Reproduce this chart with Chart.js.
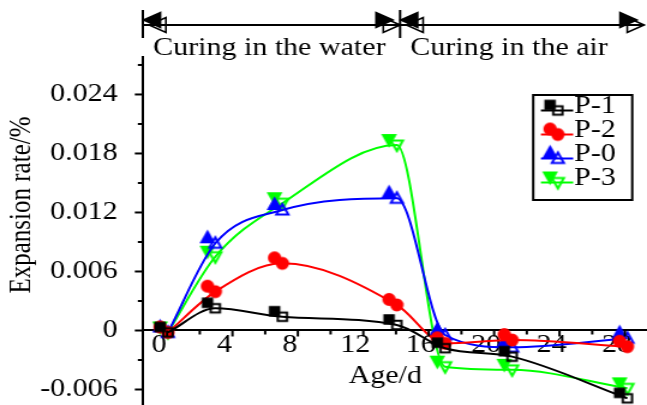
<!DOCTYPE html>
<html><head><meta charset="utf-8">
<script src="https://cdn.jsdelivr.net/npm/chart.js@4.4.1/dist/chart.umd.min.js"></script>
<style>html,body{margin:0;padding:0;background:#fff;overflow:hidden}canvas{display:block}</style>
</head><body>
<canvas id="c" width="539" height="405" style="width:647px;height:405px"></canvas>
<script>
// ---- data ----
const ages = [0.05, 2.95, 7.05, 14.05, 17.0, 21.1, 28.15];
const seriesNames = ['P-1', 'P-2', 'P-0', 'P-3'];
const p1Values = [-0.0002, 0.00226, 0.0014, 0.00056, -0.0018, -0.00266, -0.0069];
const p2Values = [-0.0002, 0.00395, 0.00683, 0.0026, -0.0013, -0.00097, -0.00165];
const p0Values = [-0.0002, 0.00887, 0.01225, 0.01344, -0.00046, -0.0017, -0.0008];
const p3Values = [-0.0002, 0.0075, 0.01294, 0.01886, -0.00368, -0.0040, -0.00588];
const xTickValues = [0, 4, 8, 12, 16, 20, 24, 28];
const xTickLabels = ['0', '4', '8', '12', '16', '20', '24', '28'];
const xMinorTicks = [2, 6, 10, 14, 18, 22, 26];
const yTickValues = [-0.006, 0, 0.006, 0.012, 0.018, 0.024];
const yTickLabels = ['-0.006', '0', '0.006', '0.012', '0.018', '0.024'];
const yMinorTicks = [-0.003, 0.003, 0.009, 0.015, 0.021, 0.027];
const phaseLabels = ['Curing in the water', 'Curing in the air'];
const phaseBounds = [-1.48, 14.25, 29.17];
const xTitle = 'Age/d';
const yTitle = 'Expansion rate/%';

const FONT = '"Liberation Serif", "Times New Roman", serif';
const FS = 25;

function drawShape(g, shape, x, y, color, filled) {
  g.beginPath();
  if (shape === 'square') g.rect(x - 3.8, y - 4.2, 7.6, 8.4);
  else if (shape === 'circle') g.ellipse(x, y, 4.6, 5.4, 0, 0, Math.PI * 2);
  else if (shape === 'up') { g.moveTo(x, y - 6); g.lineTo(x + 5, y + 4.5); g.lineTo(x - 5, y + 4.5); g.closePath(); }
  else if (shape === 'down') { g.moveTo(x, y + 6); g.lineTo(x + 5, y - 4.5); g.lineTo(x - 5, y - 4.5); g.closePath(); }
  if (filled) { g.fillStyle = color; g.fill(); }
  g.lineWidth = 2; g.strokeStyle = color; g.stroke();
}
function markerCanvas(shape, color, bothFilled) {
  const c = document.createElement('canvas');
  c.width = 34; c.height = 34;
  const g = c.getContext('2d');
  drawShape(g, shape, 17 - 6.5, 17 - 5.5, color, true);
  drawShape(g, shape, 17, 17, color, !!bothFilled);
  return c;
}
function mk(name, values, color, shape, bothFilled) {
  return {
    label: name,
    data: ages.map((a, i) => ({x: a, y: values[i]})),
    borderColor: color, backgroundColor: color, borderWidth: 2,
    cubicInterpolationMode: 'monotone',
    pointStyle: markerCanvas(shape, color, bothFilled),
    pointRadius: 6, pointHoverRadius: 6, clip: false
  };
}

const decor = {
  id: 'decor',
  afterDraw(chart) {
    const ctx = chart.ctx, xs = chart.scales.x, ys = chart.scales.y;
    const y0 = ys.getPixelForValue(0), x0 = ys.right;
    ctx.save();
    ctx.strokeStyle = '#000'; ctx.fillStyle = '#000'; ctx.lineWidth = 2;
    const seg = (a, b, c, d) => { ctx.beginPath(); ctx.moveTo(a, b); ctx.lineTo(c, d); ctx.stroke(); };
    // ticks
    xTickValues.forEach(v => { const p = xs.getPixelForValue(v); seg(p, y0, p, y0 + 6); });
    xMinorTicks.forEach(v => { const p = xs.getPixelForValue(v); seg(p, y0, p, y0 + 4); });
    yTickValues.forEach(v => { const p = ys.getPixelForValue(v); seg(x0 - 6.7, p, x0, p); });
    yMinorTicks.forEach(v => { const p = ys.getPixelForValue(v); seg(x0 - 4.2, p, x0, p); });
    // phase arrows
    const yl = 25;
    const bx = phaseBounds.map(v => xs.getPixelForValue(v));
    seg(bx[0], yl, bx[2], yl);
    seg(bx[0], 10, bx[0], 38);
    seg(bx[1], 10, bx[1], 38);
    const tri = (tipX, tipY, dir, filled) => {
      const L = 14, H = 7.5;
      ctx.beginPath();
      ctx.moveTo(tipX, tipY);
      ctx.lineTo(tipX - dir * L, tipY - H);
      ctx.lineTo(tipX - dir * L, tipY + H);
      ctx.closePath();
      if (filled) ctx.fill();
      ctx.lineWidth = 1.6; ctx.stroke();
    };
    for (let i = 0; i < 2; i++) {
      const s = bx[i], e = bx[i + 1];
      tri(s + 0.6, yl - 5, -1, true);
      tri(s + 5.2, yl, -1, false);
      tri(e - 6, yl - 5, 1, true);
      tri(e, yl, 1, false);
    }
    ctx.font = FS + 'px ' + FONT;
    ctx.textBaseline = 'alphabetic'; ctx.textAlign = 'left';
    phaseLabels.forEach((t, i) => ctx.fillText(t, bx[i] + 8.5, 55));
    // axis titles
    ctx.textAlign = 'center';
    ctx.fillText(xTitle, 321, 383);
    ctx.save();
    ctx.translate(25, 205); ctx.rotate(-Math.PI / 2);
    ctx.fillText(yTitle, 0, 0);
    ctx.restore();
    // legend
    const L = 444.2, R = 526.7, T = 95, B = 200;
    ctx.lineWidth = 2; ctx.strokeRect(L, T, R - L, B - T);
    chart.data.datasets.forEach((ds, i) => {
      const ly = 110.5 + 24 * i;
      ctx.strokeStyle = ds.borderColor; ctx.lineWidth = 2;
      seg(450.6, ly, 477.5, ly);
      const img = ds.pointStyle;
      ctx.drawImage(img, 464.7 - img.width / 2, ly - img.height / 2);
      ctx.fillStyle = '#000'; ctx.textAlign = 'left';
      ctx.fillText(ds.label, 478.3, ly + 2.5);
    });
    ctx.restore();
  }
};

Chart.defaults.font.family = FONT;
Chart.defaults.color = '#000';

new Chart(document.getElementById('c'), {
  type: 'line',
  data: {
    datasets: [
      mk(seriesNames[0], p1Values, '#000000', 'square'),
      mk(seriesNames[1], p2Values, '#ff0000', 'circle', true),
      mk(seriesNames[2], p0Values, '#0000ff', 'up'),
      mk(seriesNames[3], p3Values, '#00ff00', 'down')
    ]
  },
  options: {
    responsive: false, devicePixelRatio: 1, animation: false, events: [],
    layout: {autoPadding: false, padding: {top: 57, left: 0, right: 0, bottom: 0}},
    plugins: {legend: {display: false}, tooltip: {enabled: false}},
    scales: {
      x: {
        type: 'linear', min: -1.48, max: 29.35, position: {y: 0},
        grid: {display: false, drawTicks: false},
        border: {display: true, color: '#000', width: 2},
        ticks: {
          autoSkip: false, maxRotation: 0, minRotation: 0, padding: 0, labelOffset: -6.7,
          color: '#000', font: {family: FONT, size: FS},
          callback: v => { const i = xTickValues.indexOf(v); return i >= 0 ? xTickLabels[i] : ''; }
        },
        afterBuildTicks: s => { s.ticks = xTickValues.map(v => ({value: v})); },
        afterFit: s => { s.paddingLeft = 0; s.paddingRight = 0; }
      },
      y: {
        type: 'linear', min: -0.007576, max: 0.02781, position: 'left',
        grid: {display: false, drawTicks: false},
        border: {display: true, color: '#000', width: 2},
        ticks: {
          padding: 21, color: '#000', font: {family: FONT, size: FS},
          callback: v => { const i = yTickValues.findIndex(t => Math.abs(t - v) < 1e-9); return i >= 0 ? yTickLabels[i] : ''; }
        },
        afterBuildTicks: s => { s.ticks = yTickValues.map(v => ({value: v})); },
        afterFit: s => { s.width = 119; s.paddingTop = 0; s.paddingBottom = 0; }
      }
    }
  },
  plugins: [decor]
});
</script>
</body></html>
